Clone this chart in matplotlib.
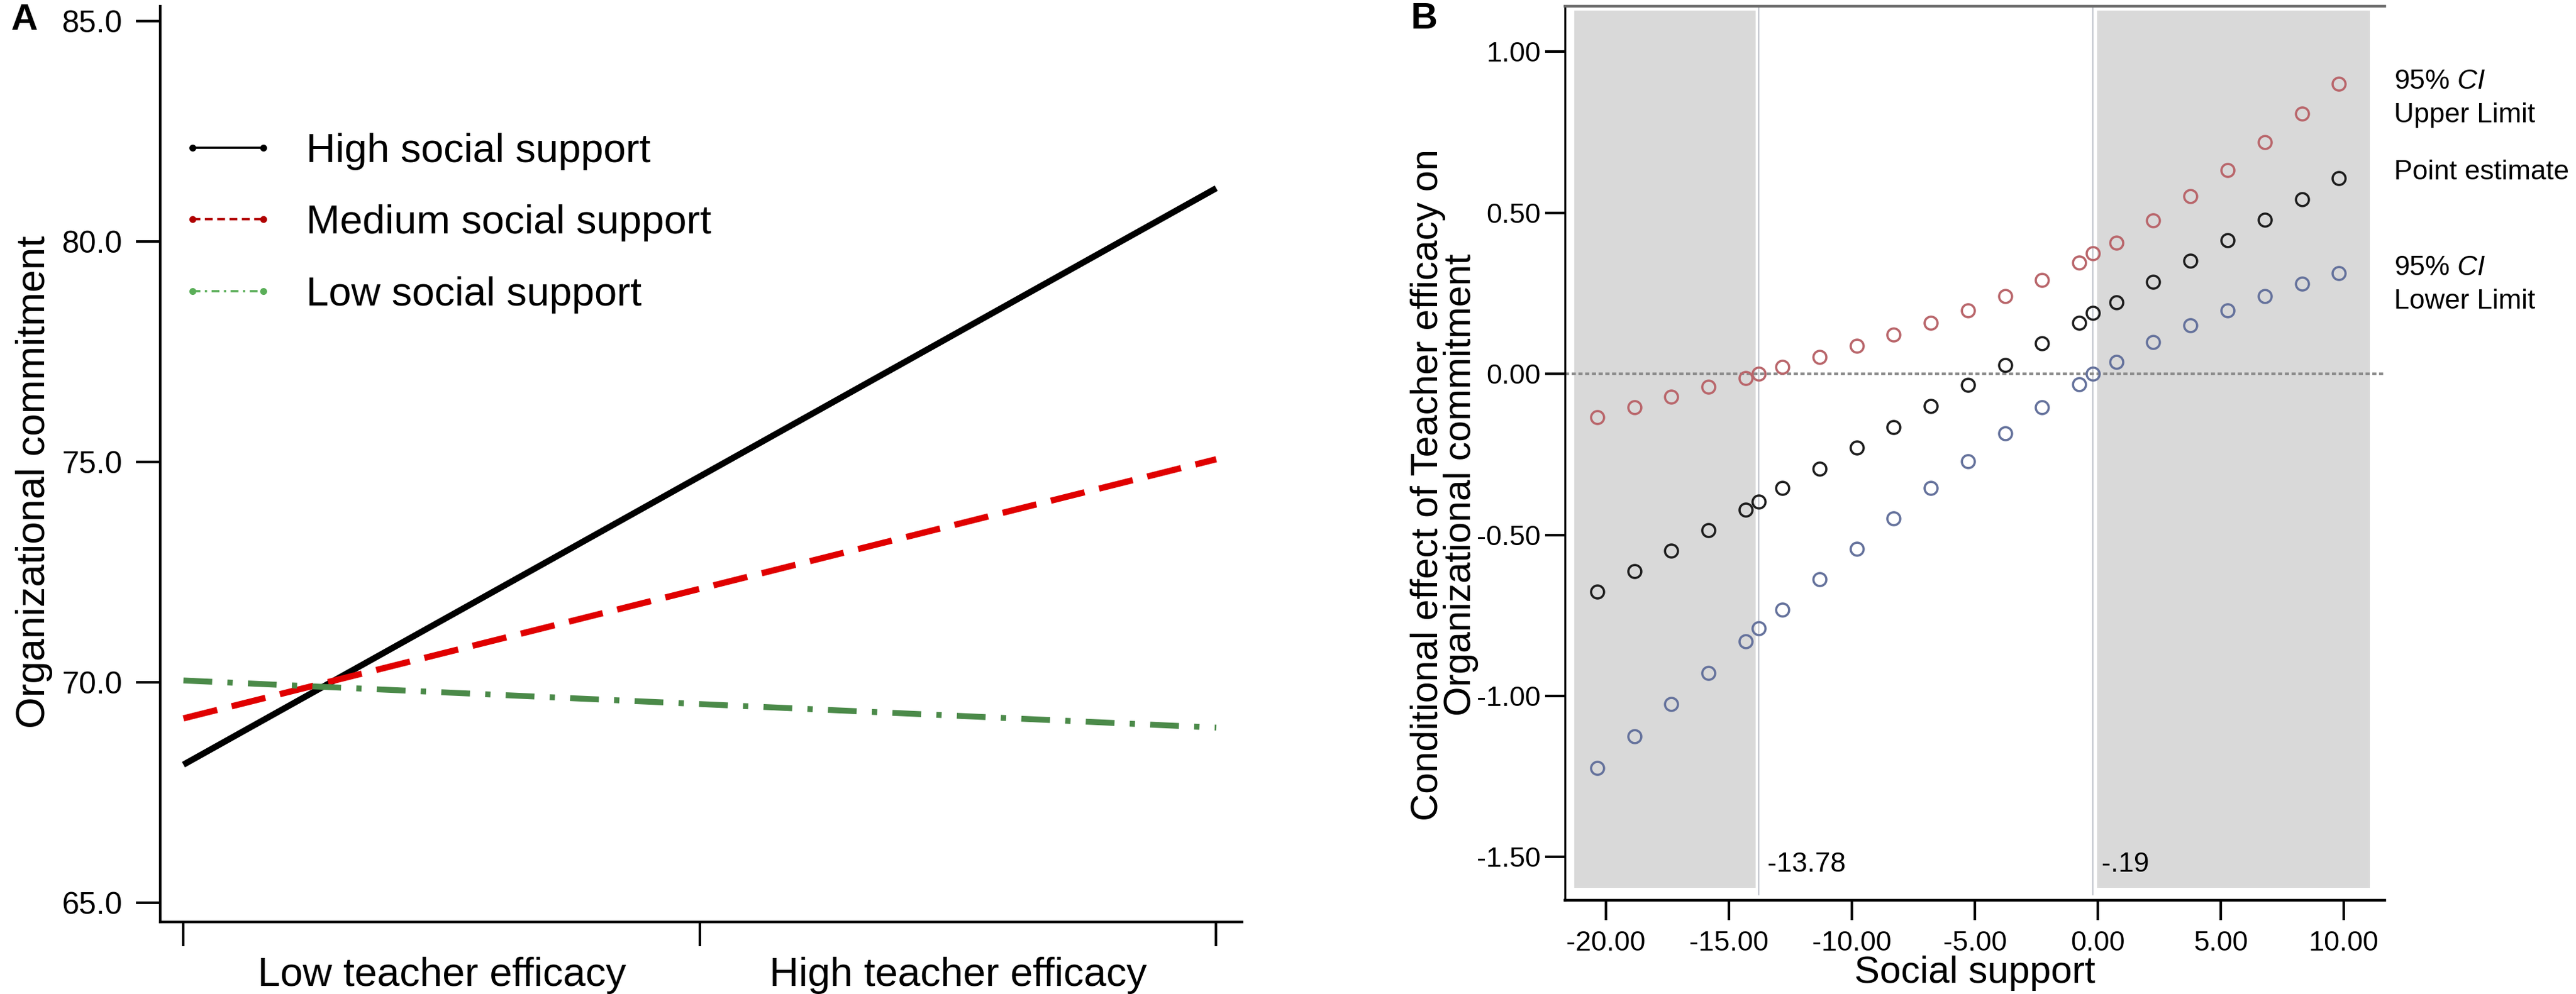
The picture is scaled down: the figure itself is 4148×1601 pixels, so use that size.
import numpy as np
import matplotlib
matplotlib.use("Agg")
import matplotlib.pyplot as plt
from matplotlib.lines import Line2D
from matplotlib.legend_handler import HandlerLine2D

plt.rcParams['font.family'] = ['Liberation Sans', 'DejaVu Sans']
plt.rcParams['mathtext.fontset'] = 'custom'
plt.rcParams['mathtext.rm'] = 'Liberation Sans'
plt.rcParams['mathtext.it'] = 'Liberation Sans:italic'

# ---- Panel A: simple slopes ----
efficacy_levels = ['Low teacher efficacy', 'High teacher efficacy']
high_support = [68.13, 81.21]
medium_support = [69.18, 75.06]
low_support = [70.04, 68.97]
a_yticks = [65.0, 70.0, 75.0, 80.0, 85.0]

# ---- Panel B: Johnson-Neyman plot ----
social_support = [-20.36, -18.85, -17.34, -15.84, -14.33, -13.78, -12.82, -11.31,
                  -9.80, -8.30, -6.79, -5.28, -3.77, -2.26, -0.76, -0.19,
                  0.75, 2.26, 3.77, 5.28, 6.79, 8.30, 9.80]
ci_upper = [-0.134, -0.103, -0.072, -0.040, -0.014, 0.000, 0.022, 0.053,
            0.086, 0.121, 0.158, 0.197, 0.241, 0.291, 0.345, 0.374,
            0.406, 0.476, 0.552, 0.633, 0.719, 0.808, 0.901]
point_est = [-0.676, -0.613, -0.549, -0.485, -0.422, -0.397, -0.355, -0.294,
             -0.230, -0.166, -0.100, -0.034, 0.028, 0.094, 0.158, 0.189,
             0.222, 0.286, 0.350, 0.414, 0.478, 0.542, 0.608]
ci_lower = [-1.224, -1.125, -1.025, -0.929, -0.831, -0.789, -0.733, -0.637,
            -0.544, -0.449, -0.355, -0.271, -0.184, -0.103, -0.032, 0.000,
            0.037, 0.099, 0.150, 0.197, 0.241, 0.279, 0.313]
jn_points = [-13.78, -0.19]
jn_labels = ['-13.78', '-.19']
b_xticks = [-20, -15, -10, -5, 0, 5, 10]
b_yticks = [-1.5, -1.0, -0.5, 0.0, 0.5, 1.0]

W, H = 4148, 1601
fig = plt.figure(figsize=(W / 100, H / 100), dpi=100)


def box(l, t, r, b):
    return [l / W, 1 - b / H, (r - l) / W, (b - t) / H]


# ================= Panel A =================
ax1 = fig.add_axes(box(258, 10, 2000, 1485))
xpos = np.array([0, 2])
ax1.plot(xpos, high_support, color='black', lw=7.2, solid_capstyle='butt')
ax1.plot(xpos, medium_support, color='#e00000', lw=7.2,
         linestyle=(0, (5.6, 2.4)))
ax1.plot(xpos, low_support, color='#4b8a49', lw=6.8,
         linestyle=(0, (4.9, 2.6, 0.9, 2.6)))

ax1.set_xlim(-0.045, 2.05)
ax1.set_ylim(64.56, 85.34)
ax1.set_yticks(a_yticks)
ax1.set_yticklabels([f'{v:.1f}' for v in a_yticks])
ax1.set_xticks([0, 1, 2])
ax1.set_xticklabels(['', '', ''])
ax1.set_xticks([0.5, 1.5], minor=True)
ax1.set_xticklabels(efficacy_levels, minor=True)
ax1.tick_params(axis='x', which='minor', length=0, labelsize=47, pad=40)
ax1.tick_params(axis='both', which='major', direction='out', length=28,
                width=3, labelsize=36, pad=16)
for s in ['top', 'right']:
    ax1.spines[s].set_visible(False)
for s in ['left', 'bottom']:
    ax1.spines[s].set_linewidth(3)

handles = [
    Line2D([], [], color='black', lw=2.6, marker='o', ms=7),
    Line2D([], [], color='#b00000', lw=2.6, marker='o', ms=7,
           linestyle=(0, (3.5, 2))),
    Line2D([], [], color='#5aae58', lw=2.6, marker='o', ms=7,
           linestyle=(0, (3.5, 2, 1, 2))),
]
ax1.legend(handles, ['High social support', 'Medium social support',
                     'Low social support'],
           loc='upper left', bbox_to_anchor=(0.03, 0.862), frameon=False,
           fontsize=47, numpoints=2, handlelength=1.75, handletextpad=1.05,
           labelspacing=0.85, borderpad=0, borderaxespad=0,
           handler_map={Line2D: HandlerLine2D(marker_pad=0)})

fig.text(55 / W, 1 - 776 / H, 'Organizational commitment', rotation=90,
         ha='center', va='center', fontsize=47)
fig.text(39 / W, 1 - 32 / H, 'A', fontsize=43, fontweight='bold',
         ha='center', va='center')

# ================= Panel B =================
ax2 = fig.add_axes(box(2520, 10, 3840, 1450))
ylo, yhi = -1.634, 1.141
ax2.set_xlim(-21.67, 11.67)
ax2.set_ylim(ylo, yhi)

shade_bottom, shade_top = -1.595, 1.128
f0 = (shade_bottom - ylo) / (yhi - ylo)
f1 = (shade_top - ylo) / (yhi - ylo)
ax2.axvspan(-21.3, jn_points[0] - 0.14, ymin=f0, ymax=f1, color='#d9d9d9',
            lw=0, zorder=0)
ax2.axvspan(jn_points[1] + 0.17, 11.06, ymin=f0, ymax=f1, color='#d9d9d9',
            lw=0, zorder=0)
for xv in jn_points:
    ax2.axvline(xv, ymin=f0 - 0.008, ymax=1, color='#c3c7cf', lw=1.6,
                zorder=1)

ax2.axhline(0, color='#8c8c8c', lw=3, linestyle=(0, (1.6, 1.0)), zorder=1)

mk = dict(marker='o', linestyle='none', ms=15, mew=2.6, mfc='none', zorder=3)
ax2.plot(social_support, ci_upper, mec='#b9666b', **mk)
ax2.plot(social_support, point_est, mec='#1e1e1e', **mk)
ax2.plot(social_support, ci_lower, mec='#65729c', **mk)

ax2.set_xticks(b_xticks)
ax2.set_xticklabels([f'{v:.2f}' for v in b_xticks])
ax2.set_yticks(b_yticks)
ax2.set_yticklabels([f'{v:.2f}' for v in b_yticks])
ax2.tick_params(axis='both', direction='out', length=23, width=3,
                labelsize=32.5, pad=5)
ax2.tick_params(axis='x', pad=12)
ax2.spines['right'].set_visible(False)
ax2.spines['top'].set_color('#6e6e6e')
ax2.spines['top'].set_linewidth(3.2)
ax2.spines['left'].set_linewidth(2.4)
ax2.spines['bottom'].set_linewidth(3.2)

for xv, lab in zip(jn_points, jn_labels):
    ax2.text(xv + 0.35, -1.523, lab, fontsize=32, ha='left', va='center')

side_x = 12.05
ax2.text(side_x, 0.906, '95% $\\mathit{CI}$', fontsize=32, ha='left',
         va='center', clip_on=False)
ax2.text(side_x, 0.802, 'Upper Limit', fontsize=32, ha='left', va='center',
         clip_on=False)
ax2.text(side_x, 0.626, 'Point estimate', fontsize=32, ha='left', va='center',
         clip_on=False)
ax2.text(side_x, 0.328, '95% $\\mathit{CI}$', fontsize=32, ha='left',
         va='center', clip_on=False)
ax2.text(side_x, 0.224, 'Lower Limit', fontsize=32, ha='left', va='center',
         clip_on=False)

fig.text(2326 / W, 1 - 781 / H,
         'Conditional effect of Teacher efficacy on\nOrganizational commitment',
         rotation=90, ha='center', va='center', fontsize=44,
         linespacing=0.9, multialignment='center')
fig.text(3180 / W, 1 - 1567 / H, 'Social support', ha='center', va='center',
         fontsize=44)
fig.text(2294 / W, 1 - 31 / H, 'B', fontsize=43, fontweight='bold',
         ha='center', va='center')

fig.savefig('out.png', dpi=100)
